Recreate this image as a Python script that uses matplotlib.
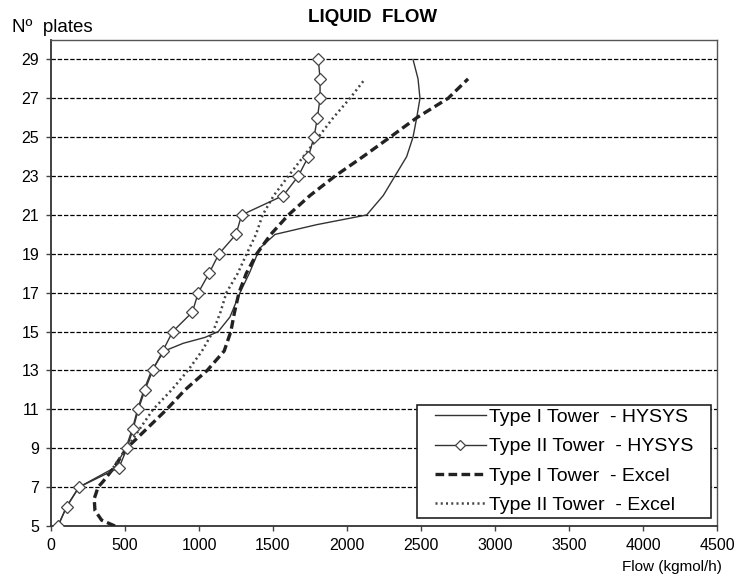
import matplotlib
matplotlib.use("Agg")
import matplotlib.pyplot as plt
from matplotlib.lines import Line2D
from matplotlib.patches import Rectangle
from matplotlib.transforms import IdentityTransform

# ---- data ----
plates_t1_hysys = [5, 6, 7, 8, 9, 10, 11, 12, 13, 14, 14.4, 14.7, 15, 15.75, 17, 18, 19, 19.3, 20,
                   20.5, 21, 22, 23, 24, 25, 26, 27, 28, 29]
flow_t1_hysys = [47, 106, 189, 430, 505, 550, 585, 628, 680, 765, 894, 1040, 1130, 1209, 1277, 1340,
                 1395, 1412, 1514, 1795, 2133, 2245, 2324, 2403, 2446, 2471, 2493, 2480, 2446]

plates_t2_hysys = list(range(5, 30))
flow_t2_hysys = [47, 106, 189, 459, 514, 555, 590, 635, 687, 755, 822, 955, 995, 1068, 1135,
                 1250, 1288, 1570, 1671, 1739, 1777, 1800, 1818, 1818, 1806]

plates_t1_excel = [5, 5.3, 5.8, 6.4, 7, 7.3, 8, 9, 10, 11, 12, 13, 14, 15, 16, 17, 18, 19, 20, 21,
                   22, 23, 24, 25, 26, 27, 28]
flow_t1_excel = [432, 342, 297, 292, 318, 353, 425, 511, 647, 782, 905, 1055, 1170, 1215, 1240, 1270,
                 1320, 1390, 1485, 1604, 1750, 1919, 2108, 2291, 2471, 2683, 2818]

plates_t2_excel = list(range(8, 29))
flow_t2_excel = [420, 510, 600, 690, 815, 925, 1020, 1095, 1145, 1185, 1262, 1322, 1385, 1430,
                 1505, 1604, 1705, 1806, 1907, 2020, 2122]

x_ticks = [0, 500, 1000, 1500, 2000, 2500, 3000, 3500, 4000, 4500]
y_ticks = [5, 7, 9, 11, 13, 15, 17, 19, 21, 23, 25, 27, 29]

labels = ["Type I Tower  - HYSYS", "Type II Tower  - HYSYS",
          "Type I Tower  - Excel", "Type II Tower  - Excel"]

# ---- figure ----
plt.rcParams['font.family'] = ['Liberation Sans', 'DejaVu Sans']
fig = plt.figure(figsize=(7.4, 5.83), dpi=100)
ax = fig.add_axes([51 / 740, 57 / 583, 666 / 740, 486 / 583])

ax.set_xlim(0, 4500)
ax.set_ylim(5, 30)

for yv in y_ticks[1:]:
    ax.axhline(yv, color='black', lw=0.9, ls=(0, (3.5, 1.5)), zorder=1)

ax.plot(flow_t1_hysys, plates_t1_hysys, color='#333333', lw=1.0, zorder=3)
ax.plot(flow_t2_hysys, plates_t2_hysys, color='#333333', lw=1.0, marker='D', ms=6,
        mfc='white', mec='#444444', mew=0.9, zorder=4)
ax.plot(flow_t1_excel, plates_t1_excel, color='#222222', lw=2.4, ls=(0, (2.6, 1.3)), zorder=3)
ax.plot(flow_t2_excel, plates_t2_excel, color='#444444', lw=1.8, ls=(0, (0.8, 1.3)), zorder=3)

ax.set_xticks(x_ticks)
ax.set_yticks(y_ticks)
ax.tick_params(axis='both', direction='out', length=3.5, width=1, color='#444444',
               labelsize=11.5, pad=5)

for s in ax.spines.values():
    s.set_color('#555555')
    s.set_linewidth(1.0)
ax.spines['left'].set_color('#333333')
ax.spines['bottom'].set_color('#333333')
ax.spines['left'].set_linewidth(1.3)
ax.spines['bottom'].set_linewidth(1.3)

handles = [
    Line2D([], [], color='#333333', lw=1.0),
    Line2D([], [], color='#333333', lw=1.0, marker='D', ms=5, mfc='white', mec='#444444', mew=0.9),
    Line2D([], [], color='#222222', lw=2.4, ls=(0, (2.6, 1.3))),
    Line2D([], [], color='#444444', lw=1.8, ls=(0, (0.8, 1.3))),
]
# legend content placed; frame drawn separately to reproduce wide side padding
leg = ax.legend(handles, labels, loc='lower right',
                bbox_to_anchor=((693 - 51) / 666, (69 - 57) / 486),
                fontsize=14, frameon=False, handlelength=2.6,
                handletextpad=0.15, labelspacing=0.6, borderpad=0, borderaxespad=0)
leg.set_zorder(6)

fig.text(0.503, 1 - 18 / 583, "LIQUID  FLOW", ha='center', va='center', fontsize=13.5,
         fontweight='bold')
fig.text(12 / 740, 1 - 27 / 583, "Nº  plates", ha='left', va='center', fontsize=13.5)
fig.text(722 / 740, 1 - 567 / 583, "Flow (kgmol/h)", ha='right', va='center', fontsize=11)

fig.canvas.draw()
bb = leg.get_window_extent(fig.canvas.get_renderer())
frame = Rectangle((bb.x0 - 18, bb.y0 - 4), bb.width + 36, bb.height + 8,
                  transform=IdentityTransform(), facecolor='white', edgecolor='#222222',
                  lw=1.2, zorder=5.5, clip_on=False)
ax.add_artist(frame)

fig.savefig("out.png", dpi=100)
